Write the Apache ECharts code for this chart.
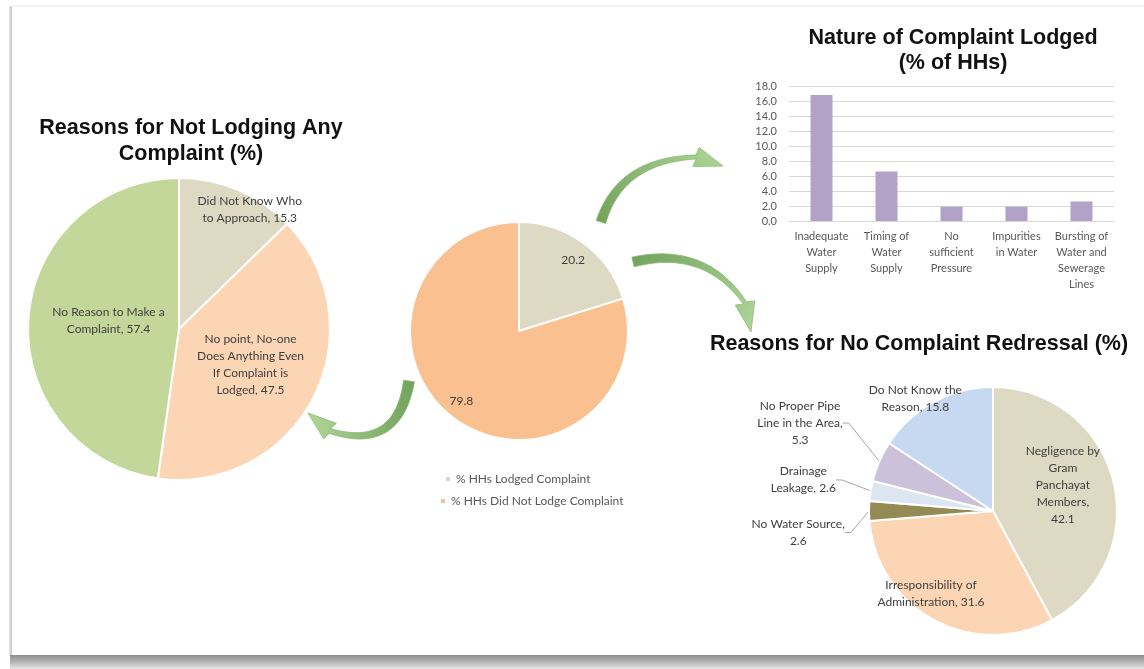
<!DOCTYPE html>
<html>
<head>
<meta charset="utf-8">
<script src="https://cdn.jsdelivr.net/npm/echarts@6/dist/echarts.min.js"></script>
<style>
html,body{margin:0;padding:0;background:#fff;}
#c{width:1144px;height:669px;}
</style>
</head>
<body>
<div id="c"></div>
<script>
// ---------------- DATA ----------------
const notLodgingNames = ['Did Not Know Who\nto Approach', 'No point, No-one\nDoes Anything Even\nIf Complaint is\nLodged', 'No Reason to Make a\nComplaint'];
const notLodgingValues = [15.3, 47.5, 57.4];

const lodgedNames = ['% HHs Lodged Complaint', '% HHs Did Not Lodge Complaint'];
const lodgedValues = [20.2, 79.8];

const natureCategories = ['Inadequate\nWater\nSupply', 'Timing of\nWater\nSupply', 'No\nsufficient\nPressure', 'Impurities\nin Water', 'Bursting of\nWater and\nSewerage\nLines'];
const natureValues = [16.8, 6.6, 1.9, 1.9, 2.6];
const natureTicks = [0, 2, 4, 6, 8, 10, 12, 14, 16, 18];

const redressalNames = ['Negligence by\nGram\nPanchayat\nMembers', 'Irresponsibility of\nAdministration', 'No Water Source', 'Drainage\nLeakage', 'No Proper Pipe\nLine in the Area', 'Do Not Know the\nReason'];
const redressalValues = [42.1, 31.6, 2.6, 2.6, 5.3, 15.8];

// ---------------- STYLE / LAYOUT ----------------
const FONT = 'Lato, "Noto Sans", sans-serif';
const TITLE_FONT = '"Liberation Sans", Arial, sans-serif';
const LABEL_COLOR = '#404040';
const AXIS_COLOR = '#595959';

const leftColors = ['#DDD9C3', '#FCD5B5', '#C4D79B'];
const centerColors = ['#DDD9C3', '#FAC090'];
const rightColors = ['#DDD9C3', '#FCD5B5', '#948A54', '#DCE6F2', '#CCC1DA', '#C6D9F1'];
const barColor = '#B3A2C7';

const leftPie = {cx: 179, cy: 329, r: 151};
const centerPie = {cx: 519, cy: 331, r: 109};
const rightPie = {cx: 993, cy: 511, r: 124};

// label spots: [radius fraction, angle in degrees clockwise from 12 o'clock]
const leftSpots = [[0.92, 30.6], [0.53, 116.6], [0.47, 276.4]];
const centerSpots = [[0.82, 37.3], [0.83, 219.6]];
const rightSpots = [[0.60, 69.9], [0.835, 216.8], [1.58, 263.7], [1.55, 279.3], [1.71, 294.5], [1.10, 325.3]];
const rightValueOnNewLine = [true, false, true, false, true, false];

function spotLayout(pie, spots) {
  return function (p) {
    const s = spots[p.dataIndex];
    const a = s[1] * Math.PI / 180;
    return {
      x: pie.cx + s[0] * pie.r * Math.sin(a),
      y: pie.cy - s[0] * pie.r * Math.cos(a),
      align: 'center',
      verticalAlign: 'middle'
    };
  };
}

function makeData(names, values, colors) {
  return names.map((n, i) => ({name: n, value: values[i], itemStyle: {color: colors[i]}}));
}

// decorative curved arrows
const arrowSpecs = [
  {p0: [409, 381], p1: [398, 452], p2: [330, 431], w0: 11, w1: 5, tip: [308, 413], hw: 10, grad: [1, 0, 0, 0]},
  {p0: [601, 222], p1: [620, 160], p2: [696, 157], w0: 10, w1: 4, tip: [723, 166], hw: 10, grad: [0, 1, 1, 0]},
  {p0: [633, 262], p1: [705, 245], p2: [745, 303], w0: 10, w1: 4, tip: [751, 332], hw: 10, grad: [0, 0, 1, 1]}
];

function arrowPolygon(s) {
  const N = 40, L = [], R = [];
  for (let i = 0; i <= N; i++) {
    const t = i / N, u = 1 - t;
    const x = u * u * s.p0[0] + 2 * u * t * s.p1[0] + t * t * s.p2[0];
    const y = u * u * s.p0[1] + 2 * u * t * s.p1[1] + t * t * s.p2[1];
    let dx = 2 * u * (s.p1[0] - s.p0[0]) + 2 * t * (s.p2[0] - s.p1[0]);
    let dy = 2 * u * (s.p1[1] - s.p0[1]) + 2 * t * (s.p2[1] - s.p1[1]);
    const len = Math.hypot(dx, dy); dx /= len; dy /= len;
    const w = (s.w0 + (s.w1 - s.w0) * t) / 2;
    L.push([x - dy * w, y + dx * w]);
    R.push([x + dy * w, y - dx * w]);
  }
  let hx = s.tip[0] - s.p2[0], hy = s.tip[1] - s.p2[1];
  const hl = Math.hypot(hx, hy); hx /= hl; hy /= hl;
  const b1 = [s.p2[0] - hy * s.hw, s.p2[1] + hx * s.hw];
  const b2 = [s.p2[0] + hy * s.hw, s.p2[1] - hx * s.hw];
  return L.concat([b1, s.tip, b2]).concat(R.reverse());
}

const arrowGraphics = arrowSpecs.map(s => ({
  type: 'polygon',
  z: 100,
  shape: {points: arrowPolygon(s)},
  style: {
    fill: {type: 'linear', x: s.grad[0], y: s.grad[1], x2: s.grad[2], y2: s.grad[3],
      colorStops: [{offset: 0, color: '#6a9d53'}, {offset: 1, color: '#add496'}]},
    stroke: '#86b96e',
    lineWidth: 0.8,
    opacity: 0.95
  }
}));

const frameGraphics = [
  {type: 'rect', z: -10, shape: {x: 9, y: 6, width: 3, height: 650},
    style: {fill: {type: 'linear', x: 0, y: 0, x2: 1, y2: 0, colorStops: [{offset: 0, color: '#e6e6e6'}, {offset: 1, color: '#c4c4c4'}]}}},
  {type: 'rect', z: -10, shape: {x: 12, y: 5, width: 1132, height: 1.5}, style: {fill: '#f0f0f0'}},
  {type: 'rect', z: -10, shape: {x: 10, y: 655, width: 1134, height: 14},
    style: {fill: {type: 'linear', x: 0, y: 0, x2: 0, y2: 1, colorStops: [{offset: 0, color: '#8e8e8e'}, {offset: 0.5, color: '#b4b4b4'}, {offset: 1, color: '#e6e6e6'}]}}}
];

const titleStyle = {fontFamily: TITLE_FONT, fontWeight: 'bold', fontSize: 21.5, color: '#111111', lineHeight: 26};

const chart = echarts.init(document.getElementById('c'), null, {renderer: 'canvas'});
chart.setOption({
  animation: false,
  backgroundColor: '#ffffff',
  title: [
    {text: 'Reasons for Not Lodging Any\nComplaint (%)', left: 186, top: 110, textAlign: 'center', textStyle: titleStyle},
    {text: 'Nature of Complaint Lodged\n(% of HHs)', left: 948, top: 21, textAlign: 'center', textStyle: Object.assign({}, titleStyle, {lineHeight: 25})},
    {text: 'Reasons for No Complaint Redressal (%)', left: 914, top: 326, textAlign: 'center', textStyle: titleStyle}
  ],
  legend: [
    {data: [lodgedNames[0]], left: 439, top: 468, orient: 'vertical', icon: 'rect', itemWidth: 6, itemHeight: 6, itemGap: 6, selectedMode: false,
      textStyle: {fontFamily: FONT, fontSize: 12, color: AXIS_COLOR}},
    {data: [lodgedNames[1]], left: 434, top: 490, orient: 'vertical', icon: 'rect', itemWidth: 6, itemHeight: 6, itemGap: 6, selectedMode: false,
      textStyle: {fontFamily: FONT, fontSize: 12, color: AXIS_COLOR}}
  ],
  grid: {left: 789, right: 30, top: 86, bottom: 448, containLabel: false},
  xAxis: {
    type: 'category',
    data: natureCategories,
    axisTick: {show: false},
    axisLine: {lineStyle: {color: '#d9d9d9'}},
    axisLabel: {interval: 0, fontFamily: FONT, fontSize: 11, color: AXIS_COLOR, lineHeight: 16, margin: 7}
  },
  yAxis: {
    type: 'value',
    min: natureTicks[0],
    max: natureTicks[natureTicks.length - 1],
    interval: natureTicks[1] - natureTicks[0],
    axisLine: {show: false},
    axisTick: {show: false},
    splitLine: {lineStyle: {color: '#d9d9d9'}},
    axisLabel: {formatter: v => v.toFixed(1), fontFamily: FONT, fontSize: 11, color: AXIS_COLOR, margin: 12}
  },
  graphic: frameGraphics.concat(arrowGraphics),
  series: [
    {
      type: 'pie',
      center: [leftPie.cx, leftPie.cy],
      radius: leftPie.r,
      startAngle: 90,
      emphasis: {disabled: true},
      itemStyle: {borderColor: '#ffffff', borderWidth: 2},
      label: {position: 'inside', fontFamily: FONT, fontSize: 12, color: LABEL_COLOR, lineHeight: 17,
        formatter: p => p.name + ', ' + p.value.toFixed(1)},
      labelLayout: spotLayout(leftPie, leftSpots),
      data: makeData(notLodgingNames, notLodgingValues, leftColors)
    },
    {
      type: 'pie',
      center: [centerPie.cx, centerPie.cy],
      radius: centerPie.r,
      startAngle: 90,
      emphasis: {disabled: true},
      itemStyle: {borderColor: '#ffffff', borderWidth: 2},
      label: {position: 'inside', fontFamily: FONT, fontSize: 12, color: LABEL_COLOR,
        formatter: p => p.value.toFixed(1)},
      labelLayout: spotLayout(centerPie, centerSpots),
      data: makeData(lodgedNames, lodgedValues, centerColors)
    },
    {
      type: 'bar',
      data: natureValues,
      barWidth: 22,
      itemStyle: {color: barColor},
      emphasis: {disabled: true}
    },
    {
      type: 'pie',
      center: [rightPie.cx, rightPie.cy],
      radius: rightPie.r,
      startAngle: 90,
      emphasis: {disabled: true},
      avoidLabelOverlap: false,
      itemStyle: {borderColor: '#ffffff', borderWidth: 2},
      label: {position: 'outside', fontFamily: FONT, fontSize: 12, color: LABEL_COLOR, lineHeight: 17,
        formatter: p => p.name + ',' + (rightValueOnNewLine[p.dataIndex] ? '\n' : ' ') + p.value.toFixed(1)},
      labelLine: {show: true, length: 8, length2: 6, smooth: false, lineStyle: {color: '#a6a6a6', width: 1}},
      labelLayout: spotLayout(rightPie, rightSpots),
      data: makeData(redressalNames, redressalValues, rightColors).map((d, i) => {
        if (i === 0 || i === 1 || i === 5) d.labelLine = {show: false};
        return d;
      })
    }
  ]
});
</script>
</body>
</html>
